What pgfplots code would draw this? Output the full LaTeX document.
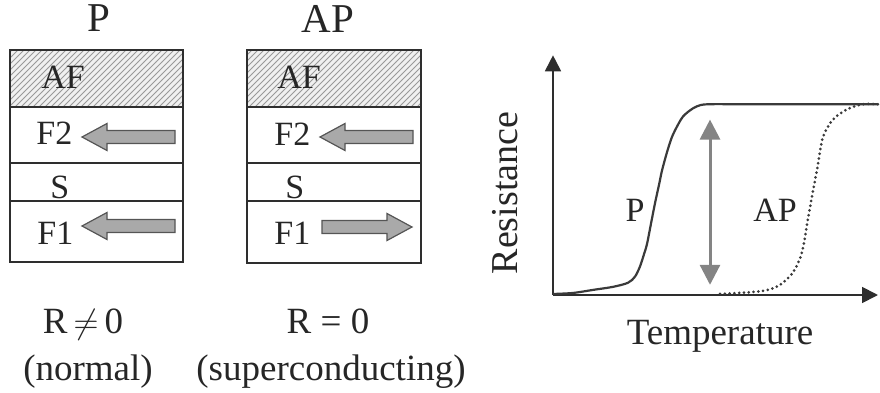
\documentclass[border=0pt]{standalone}
\usepackage{pgfplots}
\pgfplotsset{compat=1.18}
\usepackage{fontspec}
\setmainfont{Liberation Serif}
\usetikzlibrary{arrows.meta,patterns}

\definecolor{edge}{HTML}{2E2E2E}
\definecolor{arrowfill}{HTML}{A9A9A9}
\definecolor{arrowedge}{HTML}{555555}
\definecolor{curve}{HTML}{3A3A3A}
\definecolor{gap}{HTML}{848484}

% block arrows: tip x, tail x, centre y (pixel units of the scope)
\newcommand{\leftarrowblock}[3]{%
  \filldraw[fill=arrowfill, draw=arrowedge, line width=0.6pt, line join=miter]
    (#1,#3) -- ({#1+25},{#3-13.5}) -- ({#1+25},{#3-6.5}) -- (#2,{#3-6.5})
    -- (#2,{#3+6.5}) -- ({#1+25},{#3+6.5}) -- ({#1+25},{#3+13.5}) -- cycle;}
\newcommand{\rightarrowblock}[3]{%
  \filldraw[fill=arrowfill, draw=arrowedge, line width=0.6pt, line join=miter]
    (#1,#3) -- ({#1-25},{#3-13.5}) -- ({#1-25},{#3-6.5}) -- (#2,{#3-6.5})
    -- (#2,{#3+6.5}) -- ({#1-25},{#3+6.5}) -- ({#1-25},{#3+13.5}) -- cycle;}

% one F/S/F/AF stack: left x, right x, bottom y
\newcommand{\stack}[3]{%
  \fill[black!6] (#1,50) rectangle (#2,107);
  \fill[pattern=north east lines, pattern color=black!40] (#1,50) rectangle (#2,107);
  \draw[edge, line width=1pt] (#1,50) rectangle (#2,#3);
  \draw[edge, line width=1pt] (#1,107) -- (#2,107);
  \draw[edge, line width=1pt] (#1,163) -- (#2,163);
  \draw[edge, line width=1pt] (#1,201) -- (#2,201);}

\begin{document}
\begin{tikzpicture}
\useasboundingbox (0,0) rectangle (440pt,196pt);

% ---- layer stacks ----
\begin{scope}[shift={(0,196pt)}, x=0.5pt, y=-0.5pt]
  \stack{10}{183}{262}
  \stack{247}{421}{263}

  \leftarrowblock{82}{175}{137}
  \leftarrowblock{82}{175}{226}
  \leftarrowblock{320}{413}{137}
  \rightarrowblock{412}{322}{227}

  \begin{scope}[every node/.style={inner sep=0pt, text=black!85}]
    \node[anchor=base, font=\fontsize{20.5}{24}\selectfont] at (99,32) {P};
    \node[anchor=base, font=\fontsize{20.5}{24}\selectfont] at (328,33) {AP};

    \begin{scope}[every node/.append style={anchor=base west, font=\fontsize{17}{20}\selectfont}]
      \node at (41,89) {AF};
      \node at (36,144) {F2};
      \node at (50,199) {S};
      \node at (37,244) {F1};
      \node at (277,89) {AF};
      \node at (274,145) {F2};
      \node at (285,199) {S};
      \node at (274,244) {F1};
    \end{scope}

    \begin{scope}[every node/.append style={anchor=base, font=\fontsize{18.5}{22}\selectfont}]
      \node at (83,333) {R\,$\neq$\,0};
      \node at (88,380) {(normal)};
      \node at (328,333) {R = 0};
      \node at (331,380) {(superconducting)};
    \end{scope}

    \node[anchor=base, rotate=90, font=\fontsize{19}{22}\selectfont] at (517,193) {Resistance};
    \node[anchor=base, font=\fontsize{18.5}{22}\selectfont] at (720,345) {Temperature};
  \end{scope}
\end{scope}

% ---- resistance versus temperature ----
\begin{axis}[
  at={(276.5pt,48.5pt)}, anchor=south west,
  scale only axis, width=162.5pt, height=117.5pt,
  xmin=0, xmax=325, ymin=0, ymax=235,
  enlargelimits=false,
  axis lines=left,
  axis line style={-{Triangle[length=8pt,width=8pt]}, line width=0.9pt, draw=edge, fill=edge},
  xtick=\empty, ytick=\empty,
  clip=false,
]
  % parallel alignment
  \addplot[smooth, line width=1.1pt, color=curve] coordinates {
    (0,1) (20,2) (40,5) (60,8) (75,12) (82,18) (87,28) (91,40) (94,50)
    (98,70) (102,90) (106,108) (109,122) (114,140) (119,155) (125,167)
    (130,175) (137,181) (144,185) (155,187) (200,187) (325,187)};
  % antiparallel alignment
  \addplot[smooth, line width=1.5pt, color=curve, line cap=round,
           dash pattern=on 0pt off 2.4pt] coordinates {
    (167,1) (200,3) (215,5) (227,10) (240,22) (249,42) (255,75) (260,102)
    (265,128) (270,155) (280,172) (294,182) (310,187) (325,187)};

  \draw[gap, line width=1.5pt, {Triangle[length=10pt,width=10pt]}-{Triangle[length=10pt,width=10pt]}]
    (axis cs:157,10) -- (axis cs:157,172);

  \node[anchor=base, inner sep=0pt, font=\fontsize{17}{20}\selectfont, text=black!85]
    at (axis cs:82,72) {P};
  \node[anchor=base, inner sep=0pt, font=\fontsize{17}{20}\selectfont, text=black!85]
    at (axis cs:222,72) {AP};
\end{axis}
\end{tikzpicture}
\end{document}
